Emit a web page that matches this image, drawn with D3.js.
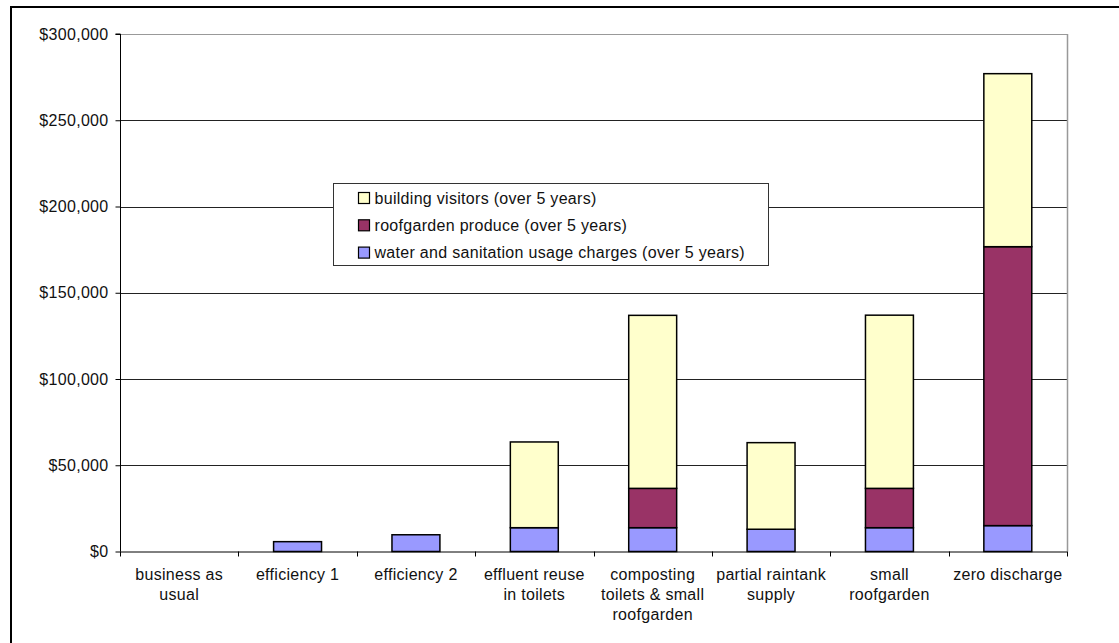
<!DOCTYPE html>
<html>
<head>
<meta charset="utf-8">
<script src="https://cdn.jsdelivr.net/npm/d3@7"></script>
<style>
  html, body { margin: 0; padding: 0; background: #fff; }
  svg { display: block; }
  text { font-family: "Liberation Sans", Arial, Helvetica, sans-serif; fill: #111; }
</style>
</head>
<body>
<svg id="chart" width="1119" height="643"></svg>
<script>
// Scenario categories (line breaks as they appear under the axis)
const categories = [
  "business as|usual",
  "efficiency 1",
  "efficiency 2",
  "effluent reuse|in toilets",
  "composting|toilets & small|roofgarden",
  "partial raintank|supply",
  "small|roofgarden",
  "zero discharge"
];

// Savings per scenario, stacked bottom to top
const waterCharges = [0, 5700, 9700, 13800, 13800, 12900, 13800, 15000];
const roofgardenProduce = [0, 0, 0, 0, 22800, 0, 22800, 161700];
const buildingVisitors = [0, 0, 0, 49700, 100300, 50200, 100400, 100300];

const seriesNames = [
  "water and sanitation usage charges (over 5 years)",
  "roofgarden produce (over 5 years)",
  "building visitors (over 5 years)"
];
const seriesColors = ["#9999FF", "#993366", "#FFFFCC"];

const yTicks = [0, 50000, 100000, 150000, 200000, 250000, 300000];

const FONT = "16px";
const SPACING = "0.3px";

const svg = d3.select("#chart");

// Outer chart frame
svg.append("rect")
  .attr("x", 11).attr("y", 7).attr("width", 1140).attr("height", 700)
  .attr("fill", "none").attr("stroke", "#000").attr("stroke-width", 2);

const plot = { left: 120, top: 34, right: 1067, bottom: 551.5 };

const x = d3.scaleBand()
  .domain(categories)
  .range([plot.left, plot.right])
  .paddingInner(0.595)
  .paddingOuter(0.2975);

const y = d3.scaleLinear()
  .domain([0, 300000])
  .range([plot.bottom, plot.top]);

// Horizontal gridlines
svg.append("g")
  .selectAll("line")
  .data(yTicks.filter(d => d > 0))
  .join("line")
  .attr("x1", plot.left).attr("x2", plot.right)
  .attr("y1", d => Math.round(y(d)) + 0.5).attr("y2", d => Math.round(y(d)) + 0.5)
  .attr("stroke", d => d === 300000 ? "#999" : "#222")
  .attr("stroke-width", 1);

// Right border of plot area
svg.append("line")
  .attr("x1", plot.right + 0.5).attr("x2", plot.right + 0.5)
  .attr("y1", plot.top).attr("y2", plot.bottom)
  .attr("stroke", "#999").attr("stroke-width", 1.5);

// Stacked bars
const rows = categories.map((c, i) => ({
  cat: c, w: waterCharges[i], r: roofgardenProduce[i], v: buildingVisitors[i]
}));
const stack = d3.stack().keys(["w", "r", "v"]);
const layers = stack(rows);

svg.append("g")
  .selectAll("g")
  .data(layers)
  .join("g")
  .attr("fill", (d, i) => seriesColors[i])
  .selectAll("rect")
  .data(d => d.filter(p => p[1] - p[0] > 0))
  .join("rect")
  .attr("x", d => x(d.data.cat))
  .attr("width", x.bandwidth())
  .attr("y", d => y(d[1]))
  .attr("height", d => y(d[0]) - y(d[1]))
  .attr("stroke", "#000")
  .attr("stroke-width", 1.5);

// Y axis
const yAxis = d3.axisLeft(y)
  .tickValues(yTicks)
  .tickSize(5)
  .tickPadding(7)
  .tickFormat(d => "$" + d3.format(",")(d));

const gy = svg.append("g")
  .attr("transform", `translate(${plot.left + 0.5},0)`)
  .call(yAxis);
gy.select(".domain").attr("stroke", "#000").attr("d", `M-5,${plot.top}H0V${plot.bottom}`);
gy.selectAll(".tick line").attr("stroke", "#000");
gy.selectAll(".tick text")
  .style("font-size", FONT)
  .style("letter-spacing", SPACING)
  .attr("fill", "#111");

// X axis line with ticks at category boundaries
const step = x.step();
const boundaries = d3.range(categories.length + 1).map(i => plot.left + i * step);
svg.append("line")
  .attr("x1", plot.left).attr("x2", plot.right)
  .attr("y1", plot.bottom + 0.5).attr("y2", plot.bottom + 0.5)
  .attr("stroke", "#000").attr("stroke-width", 1);
svg.append("g")
  .selectAll("line")
  .data(boundaries)
  .join("line")
  .attr("x1", d => Math.round(d) + 0.5).attr("x2", d => Math.round(d) + 0.5)
  .attr("y1", plot.bottom).attr("y2", plot.bottom + 5)
  .attr("stroke", "#000");

// Category labels
const xl = svg.append("g")
  .selectAll("text")
  .data(categories)
  .join("text")
  .attr("x", d => x(d) + x.bandwidth() / 2)
  .attr("y", plot.bottom + 28)
  .attr("text-anchor", "middle")
  .style("font-size", FONT)
  .style("letter-spacing", SPACING);
xl.selectAll("tspan")
  .data(d => d.split("|"))
  .join("tspan")
  .attr("x", function() { return d3.select(this.parentNode).attr("x"); })
  .attr("dy", (d, i) => i === 0 ? 0 : 20)
  .text(d => d);

// Legend (top series listed first)
const legend = svg.append("g").attr("transform", "translate(333.5,183.5)");
legend.append("rect")
  .attr("width", 435).attr("height", 82)
  .attr("fill", "#fff").attr("stroke", "#333").attr("stroke-width", 1);
const order = [2, 1, 0];
const items = legend.selectAll("g.item")
  .data(order)
  .join("g")
  .attr("class", "item")
  .attr("transform", (d, i) => `translate(25,${9 + i * 27.3})`);
items.append("rect")
  .attr("width", 11).attr("height", 11)
  .attr("fill", d => seriesColors[d])
  .attr("stroke", "#000").attr("stroke-width", 1.2);
items.append("text")
  .attr("x", 16).attr("y", 11)
  .style("font-size", FONT)
  .style("letter-spacing", SPACING)
  .text(d => seriesNames[d]);
</script>
</body>
</html>
